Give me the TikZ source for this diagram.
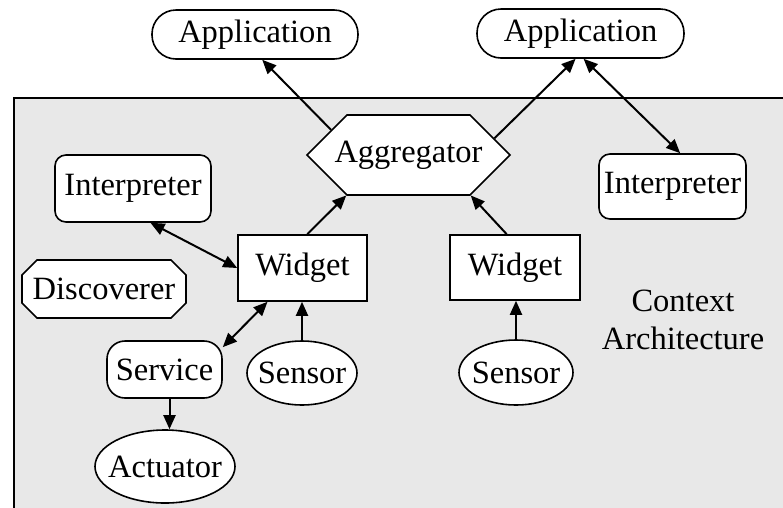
\documentclass[tikz,border=0pt]{standalone}
\usepackage{fontspec}
\setmainfont{Liberation Serif}
\usetikzlibrary{arrows.meta,shapes.misc,shapes.geometric,shapes.symbols}
\definecolor{bggray}{RGB}{232,232,232}
\tikzset{
  base/.style={draw=black, line width=1.6pt, fill=white, inner sep=0pt,
    font=\fontsize{32.5}{38}\selectfont},
  appbox/.style={base, rectangle, rounded corners=24pt, minimum width=206pt, minimum height=49pt},
  roundbox/.style={base, rectangle, rounded corners=11pt},
  plainbox/.style={base, rectangle},
  ovalnode/.style={base, ellipse},
  hexnode/.style={base, signal, signal to=west and east, signal pointer angle=90,
    minimum width=203pt, minimum height=80pt},
  octline/.style={draw=black, line width=1.6pt, fill=white, line join=miter},
  octnode/.style={base, draw=none, fill=none, rectangle, minimum width=164pt, minimum height=58pt},
  conn/.style={line width=2pt, -{Triangle[length=14pt,width=12pt]}},
  biconn/.style={line width=2pt, {Triangle[length=14pt,width=12pt]}-{Triangle[length=14pt,width=12pt]}}
}
\begin{document}
\begin{tikzpicture}[x=1pt,y=-1pt]
\useasboundingbox (0,0) rectangle (783,507);
\clip (0,0) rectangle (783,507);
\draw[fill=bggray, line width=1.5pt] (14,98) rectangle (800,520);

\node[appbox] (appL) at (255,34.5) {Application};
\node[appbox, minimum width=207pt] (appR) at (580.5,33.5) {Application};
\node[hexnode] (agg) at (408.5,155) {\makebox[0pt]{Aggregator}};
\node[roundbox, minimum width=156pt, minimum height=67pt] (intL) at (133,188.5) {Interpreter};
\node[roundbox, minimum width=147pt, minimum height=65pt] (intR) at (672.5,186.5) {Interpreter};
\node[plainbox, minimum width=129pt, minimum height=66pt] (wL) at (302.5,268) {Widget};
\node[plainbox, minimum width=130pt, minimum height=65pt] (wR) at (515,267.5) {Widget};
\coordinate (dc) at (104,289);
\path[octline] (dc) ++(-67,-29) -- ++(134,0) -- ++(15,15) -- ++(0,28) -- ++(-15,15)
  -- ++(-134,0) -- ++(-15,-15) -- ++(0,-28) -- cycle;
\node[octnode] (disc) at (dc) {Discoverer};
\node[roundbox, rounded corners=18pt, minimum width=115pt, minimum height=57pt] (serv) at (164.5,369.5) {Service};
\node[ovalnode, minimum width=110pt, minimum height=64pt] (sL) at (302,373) {\makebox[0pt]{Sensor}};
\node[ovalnode, minimum width=114pt, minimum height=65pt] (sR) at (516,372.5) {\makebox[0pt]{Sensor}};
\node[ovalnode, minimum width=140pt, minimum height=73pt] (act) at (165,466.5) {\makebox[0pt]{Actuator}};
\node[font=\fontsize{32.5}{38}\selectfont, align=center, inner sep=0pt] (ctx) at (683,320) {Context\\Architecture};

\draw[conn] (agg.162) -- (appL.-74);
\draw[conn] (agg.11) -- (appR.-101);
\draw[biconn] (appR.-83) -- (intR.77);
\draw[conn] (wL.82) -- (agg.-147);
\draw[conn] (wR.104) -- (agg.-33);
\draw[biconn] (intL.-63) -- (wL.west);
\draw[biconn] (wL.-136) -- (serv.21);
\draw[conn] (sL.north) -- (sL.north |- wL.south);
\draw[conn] (sR.north) -- (sR.north |- wR.south);
\draw[conn] ([xshift=5pt]serv.south) -- ([xshift=5pt]serv.south |- act.north);
\end{tikzpicture}
\end{document}
